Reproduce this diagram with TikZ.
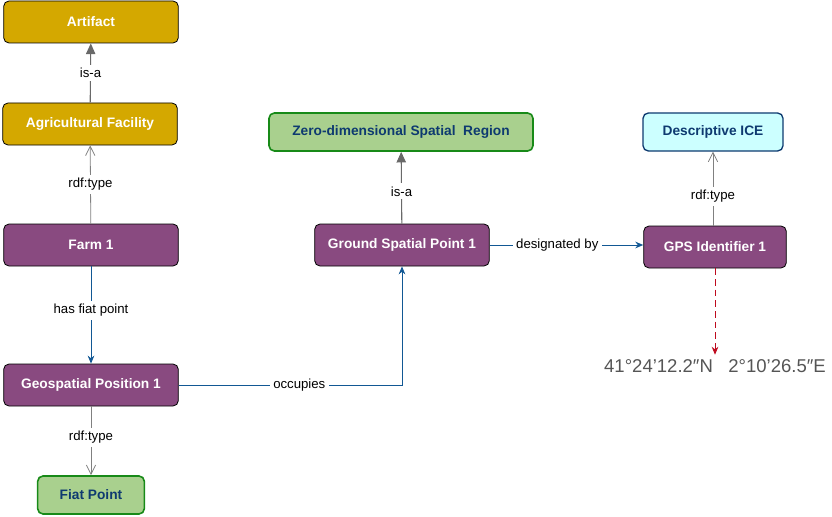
\documentclass[tikz,border=0pt]{standalone}
\usepackage{fontspec}
\setmainfont{Liberation Sans}
\usepackage{tikz}
\usetikzlibrary{positioning, calc, arrows.meta}

\definecolor{classgold}{RGB}{212,168,0}
\definecolor{instpurple}{RGB}{137,74,128}
\definecolor{regiongreen}{RGB}{169,208,142}
\definecolor{regionedge}{RGB}{24,138,24}
\definecolor{textnavy}{RGB}{14,58,112}
\definecolor{icecyan}{RGB}{204,255,255}
\definecolor{relblue}{RGB}{18,88,148}
\definecolor{typegray}{RGB}{128,128,128}
\definecolor{isagray}{RGB}{105,105,105}
\definecolor{valred}{RGB}{190,10,30}

\begin{document}
\begin{tikzpicture}[
        x=0.75pt, y=-0.75pt,
        box/.style={
            draw=black, line width=0.6pt,
            rounded corners=4pt,
            font=\bfseries\fontsize{10.3}{12}\selectfont,
            minimum height=31.5pt, inner sep=2pt
        },
        classbox/.style={box, fill=classgold, text=white, minimum width=131pt},
        instbox/.style={box, fill=instpurple, text=white},
        regionbox/.style={box, fill=regiongreen, draw=regionedge, line width=1.2pt,
            text=textnavy, minimum height=28.5pt},
        icebox/.style={box, fill=icecyan, draw=textnavy, line width=1pt,
            text=textnavy, minimum height=28.5pt},
        lbl/.style={fill=white, inner sep=2.5pt, text=black,
            font=\fontsize{9.9}{11}\selectfont},
        isa/.style={draw=typegray, line width=0.8pt,
            -{Triangle[length=8pt, width=7pt, fill=isagray]}, isagray},
        rdftype/.style={draw=typegray, line width=0.6pt,
            -{Straight Barb[length=7pt, width=7pt]}},
        relation/.style={draw=relblue, line width=0.7pt,
            -{Stealth[length=6pt, width=5pt]}}
    ]
        \useasboundingbox (0,0) rectangle (832,517);

        % Left column
        \node[classbox] (artifact) at (91,22) {Artifact};
        \node[classbox] (agri) at (90,124) {Agricultural Facility};
        \node[instbox, minimum width=131pt] (farm) at (91,245) {Farm 1};
        \node[instbox, minimum width=131pt] (geopos) at (91,385) {Geospatial Position 1};
        \node[regionbox, minimum width=80pt] (fiat) at (91,495) {Fiat Point};

        % Middle column
        \node[regionbox, minimum width=198pt] (zerodim) at (401,132) {Zero-dimensional Spatial\ \ Region};
        \node[instbox, minimum width=131pt] (ground) at (402,245) {Ground Spatial Point 1};

        % Right column
        \node[icebox, minimum width=105pt] (ice) at (713,132) {Descriptive ICE};
        \node[instbox, minimum width=107pt] (gps) at (715,247) {GPS Identifier 1};
        \node[text={rgb,255:red,85;green,85;blue,85}, font=\fontsize{13.9}{16}\selectfont]
            (coords) at (715,366) {41°24’12.2″N\ \ \ 2°10’26.5″E};

        % Class hierarchy and types
        \draw[isa] (agri) -- (artifact) node[lbl, midway] {is-a};
        \draw[rdftype] (farm) -- (agri) node[lbl, midway] {rdf:type};
        \draw[rdftype] (geopos) -- (fiat) node[lbl, pos=0.45] {rdf:type};
        \draw[isa] (ground) -- (zerodim) node[lbl, pos=0.45] {is-a};
        \draw[rdftype] (gps.north -| ice) -- (ice) node[lbl, pos=0.4] {rdf:type};

        % Relations
        \draw[relation] (farm) -- (geopos) node[lbl, pos=0.45] {has fiat point};
        \draw[relation] (geopos.east) -| (ground.south) node[lbl, pos=0.27] {occupies};
        \draw[relation] (ground.east) -- (gps.west |- ground.east) node[lbl, pos=0.44] {designated by};

        % Value
        \draw[valred, dashed, dash pattern=on 5pt off 3pt, line width=0.7pt,
            -{Stealth[length=6pt, width=5pt]}] (gps) -- (coords.north);

\end{tikzpicture}
\end{document}
